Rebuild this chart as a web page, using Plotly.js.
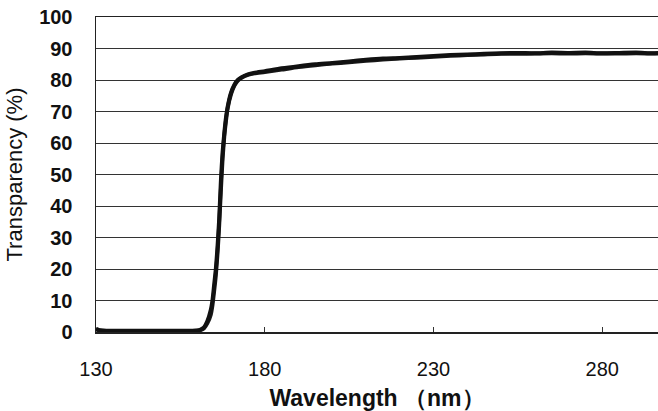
<!DOCTYPE html>
<html>
<head>
<meta charset="utf-8">
<script src="https://cdn.plot.ly/plotly-3.0.1.min.js"></script>
<style>html,body{margin:0;padding:0;background:#fff;}#chart{width:658px;height:411px;}</style>
</head>
<body>
<div id="chart"></div>
<script>
// Wavelength (nm)
const wavelength = [130,131,133,135,140,145,150,155,160,161,162,163,164,164.5,165,165.5,166,166.5,167,167.5,168,168.5,169,170,171,172,173,175,177,180,185,190,195,200,205,210,215,220,225,230,235,240,245,250,255,260,265,270,275,280,285,290,295,297];
// Transparency (%) sample A
const transA = [1.0,0.6,0.4,0.4,0.4,0.4,0.4,0.4,0.5,0.8,1.5,3.5,7,10,15,20,27,36,48,57,63,68,71.5,76,78.5,80,80.8,81.8,82.3,82.8,83.7,84.4,85.0,85.4,85.9,86.4,86.8,87.0,87.3,87.6,87.9,88.1,88.3,88.5,88.6,88.5,88.7,88.6,88.7,88.5,88.6,88.7,88.5,88.6];
// Transparency (%) sample B
const transB = [0.8,0.5,0.3,0.3,0.3,0.3,0.3,0.3,0.4,0.6,1.2,2.8,5.5,8.5,13,18,25,34,45,55,62,67,71,75.5,78.2,79.8,80.6,81.6,82.1,82.5,83.3,84.1,84.7,85.2,85.6,86.1,86.5,86.8,87.1,87.4,87.7,87.9,88.1,88.3,88.3,88.4,88.5,88.4,88.5,88.4,88.4,88.5,88.4,88.4];
const xTicks = [130,180,230,280];
const yTicks = [0,10,20,30,40,50,60,70,80,90,100];

const fam = 'Liberation Sans, Arial, sans-serif';
const data = [
  {x: wavelength, y: transB, type: 'scatter', mode: 'lines', line: {color: '#1a1a1a', width: 4, shape: 'spline', smoothing: 0.6}, hoverinfo: 'skip'},
  {x: wavelength, y: transA, type: 'scatter', mode: 'lines', line: {color: '#111', width: 4, shape: 'spline', smoothing: 0.6}, hoverinfo: 'skip'}
];
const layout = {
  width: 658, height: 411,
  margin: {l: 96, r: 0, t: 17, b: 79},
  paper_bgcolor: '#fff', plot_bgcolor: '#fff',
  showlegend: false,
  font: {family: fam, color: '#111'},
  xaxis: {
    range: [130, 296.5], tickvals: xTicks, ticktext: xTicks.map(String),
    ticks: 'inside', ticklen: 5, tickcolor: '#333',
    showgrid: false, zeroline: false,
    showline: true, linecolor: '#222', linewidth: 1.5, mirror: true,
    tickfont: {family: fam, size: 20, color: '#111'},
    ticklabelstandoff: 18,
    title: {text: 'Wavelength （nm）', font: {family: fam, size: 23, weight: 'bold', color: '#111'}, standoff: 13},
    automargin: false
  },
  yaxis: {
    range: [0, 100], tickvals: yTicks, ticktext: yTicks.map(String),
    ticks: '', showgrid: true, gridcolor: '#333', gridwidth: 1,
    zeroline: false, showline: true, linecolor: '#222', linewidth: 1.5,
    tickfont: {family: fam, size: 20, weight: 'bold', color: '#111'},
    ticklabelstandoff: 18,
    title: {text: 'Transparency (%)', font: {family: fam, size: 22, color: '#111'}, standoff: 10},
    automargin: false
  }
};
Plotly.newPlot('chart', data, layout, {staticPlot: true, displayModeBar: false});
</script>
</body>
</html>
